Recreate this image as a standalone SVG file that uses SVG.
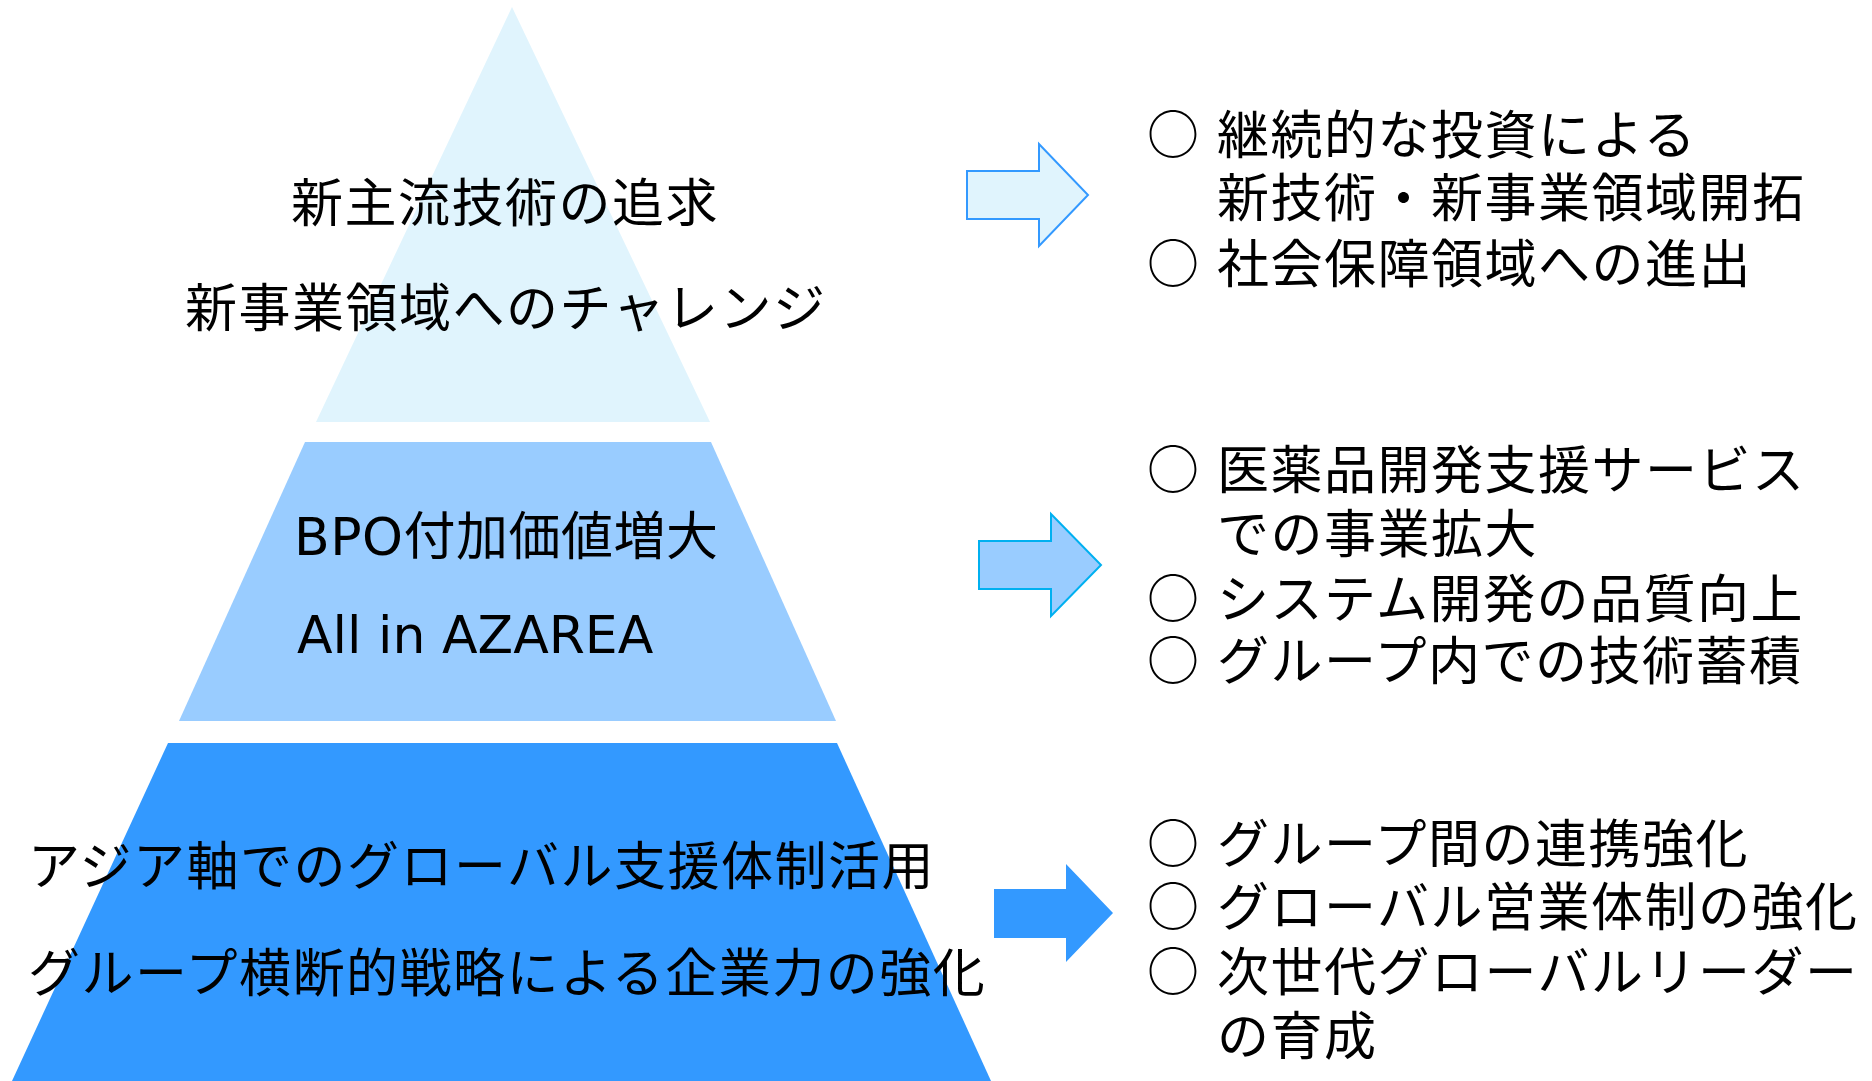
<svg xmlns="http://www.w3.org/2000/svg" width="1872" height="1081" viewBox="0 0 1872 1081">
<style>
.t{font-family:"Noto Sans CJK JP","Noto Sans CJK SC",sans-serif;font-size:52px;letter-spacing:1.5px;fill:#000}
.lat{font-family:"DejaVu Sans","Noto Sans CJK JP",sans-serif;letter-spacing:0.5px}
.lat0{letter-spacing:0}
</style>
<rect width="1872" height="1081" fill="#fff"/>
<g id="tier1">
<polygon points="512,7 316,422 710,422" fill="#E0F4FD"/>
<text class="t" x="291" y="222">新主流技術の追求</text>
<text class="t" x="185" y="327">新事業領域へのチャレンジ</text>
</g>
<g id="tier2">
<polygon points="305,442 711,442 836,721 179,721" fill="#99CCFF"/>
<text class="t lat" x="294" y="555">BPO付加価値増大</text>
<text class="t lat lat0" x="297" y="653">All in AZAREA</text>
</g>
<g id="tier3">
<polygon points="168,743 837,743 991,1081 12,1081" fill="#3399FF"/>
<text class="t" x="28" y="885">アジア軸でのグローバル支援体制活用</text>
<text class="t" x="28" y="992">グループ横断的戦略による企業力の強化</text>
</g>
<g id="connectors">
<polygon points="967,171 1039,171 1039,144 1088,195 1039,246 1039,219 967,219" fill="#E0F4FD" stroke="#3399FF" stroke-width="2"/>
<polygon points="979,541 1051,541 1051,514 1101,565 1051,616 1051,589 979,589" fill="#99CCFF" stroke="#00B0F0" stroke-width="2"/>
<polygon points="994,889 1066,889 1066,864 1113,913 1066,962 1066,938 994,938" fill="#3399FF"/>
</g>
<g id="list1">
<text class="t" y="154"><tspan x="1147">○ </tspan><tspan x="1217">継続的な投資による</tspan></text>
<text class="t" x="1217" y="217">新技術・新事業領域開拓</text>
<text class="t" y="283"><tspan x="1147">○ </tspan><tspan x="1217">社会保障領域への進出</tspan></text>
</g>
<g id="list2">
<text class="t" y="489"><tspan x="1147">○ </tspan><tspan x="1217">医薬品開発支援サービス</tspan></text>
<text class="t" x="1217" y="553">での事業拡大</text>
<text class="t" y="618"><tspan x="1147">○ </tspan><tspan x="1217">システム開発の品質向上</tspan></text>
<text class="t" y="680"><tspan x="1147">○ </tspan><tspan x="1217">グループ内での技術蓄積</tspan></text>
</g>
<g id="list3">
<text class="t" y="863"><tspan x="1147">○ </tspan><tspan x="1217">グループ間の連携強化</tspan></text>
<text class="t" y="926"><tspan x="1147">○ </tspan><tspan x="1217">グローバル営業体制の強化</tspan></text>
<text class="t" y="991"><tspan x="1147">○ </tspan><tspan x="1217">次世代グローバルリーダー</tspan></text>
<text class="t" x="1217" y="1055">の育成</text>
</g>
</svg>
